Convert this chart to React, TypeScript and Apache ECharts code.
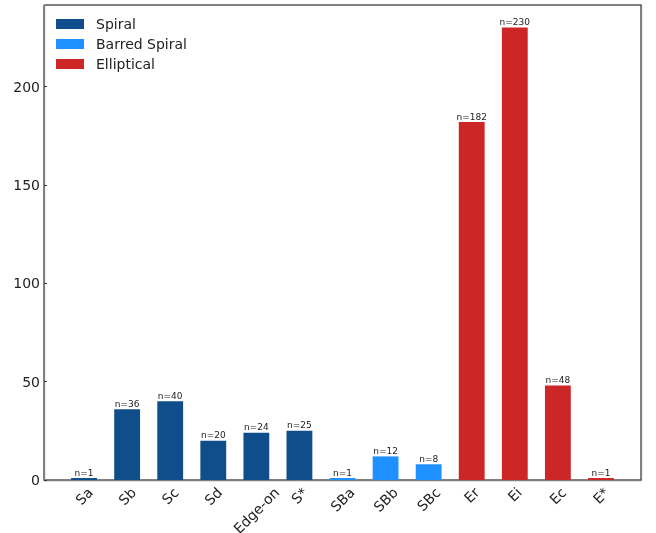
import React, { useEffect, useRef } from "react";
import * as echarts from "echarts";

const spiralCats = ["Sa", "Sb", "Sc", "Sd", "Edge-on", "S*"];
const spiralValues = [1, 36, 40, 20, 24, 25];
const barredCats = ["SBa", "SBb", "SBc"];
const barredValues = [1, 12, 8];
const ellipticalCats = ["Er", "Ei", "Ec", "E*"];
const ellipticalValues = [182, 230, 48, 1];
const yTicks = [0, 50, 100, 150, 200];

const categories = [...spiralCats, ...barredCats, ...ellipticalCats];
const FONT = "DejaVu Sans";

function measure(text: string, size: number): number {
  const c = document.createElement("canvas");
  const ctx = c.getContext("2d");
  if (!ctx) return text.length * size * 0.6;
  ctx.font = `${size}px "${FONT}"`;
  return ctx.measureText(text).width;
}

export default function App() {
  const ref = useRef<HTMLDivElement>(null);
  useEffect(() => {
    if (!ref.current) return;
    const chart = echarts.init(ref.current, undefined, { renderer: "svg" });

    const n = categories.length;
    const margin = 0.05 * (n - 1 + 0.6);
    const xMin = -0.3 - margin;
    const xMax = n - 1 + 0.3 + margin;
    const allValues = [...spiralValues, ...barredValues, ...ellipticalValues];
    const yMax = Math.max(...allValues) * 1.05;

    const gridLeft = 44;
    const gridRight = 15;
    const gridTop = 5;
    const gridBottom = 53;
    const plotW = 656 - gridLeft - gridRight;
    const unit = plotW / (xMax - xMin);
    const barW = 0.6 * unit;
    const bandInset = (-0.5 - xMin) * unit;

    // rich styles per category to emulate centred rotated labels
    const rich: Record<string, any> = {};
    categories.forEach((c, i) => {
      const w = measure(c, 14);
      const d = 5 + (w + 14) * 0.3536;
      const p = d * 1.4142;
      rich["c" + i] = {
        fontSize: 14,
        fontFamily: FONT,
        color: "#222",
        lineHeight: 16,
        padding: [p, p, 0, 0],
      };
    });

    const mk = (vals: number[], offset: number) =>
      vals.map((v, i) => [offset + i, v]);

    const labelCfg = {
      show: true,
      position: "top",
      distance: 1,
      fontSize: 9,
      fontFamily: FONT,
      color: "#222",
      formatter: (p: any) => "n=" + p.value[1],
    };

    chart.setOption({
      animation: false,
      grid: [
        {
          left: gridLeft,
          right: gridRight,
          top: gridTop,
          bottom: gridBottom,
          show: true,
          borderColor: "#000",
          borderWidth: 1,
          backgroundColor: "transparent",
          outerBoundsMode: "none",
          containLabel: false,
        },
        {
          left: gridLeft + bandInset,
          right: gridRight + bandInset,
          top: gridTop,
          bottom: gridBottom,
          show: false,
          outerBoundsMode: "none",
          containLabel: false,
        },
      ],
      legend: {
        orient: "vertical",
        left: 56,
        top: 17,
        padding: 0,
        itemWidth: 28,
        itemHeight: 10,
        itemGap: 6,
        icon: "rect",
        textStyle: {
          fontSize: 14,
          fontFamily: FONT,
          color: "#222",
          padding: [0, 0, 0, 7],
        },
        data: ["Spiral", "Barred Spiral", "Elliptical"],
      },
      xAxis: [
        {
          type: "value",
          gridIndex: 0,
          min: xMin,
          max: xMax,
          splitLine: { show: false },
          axisLine: {
            show: true,
            onZero: false,
            lineStyle: { color: "#808080", width: 1.3 },
          },
          axisTick: { show: false },
          axisLabel: { show: false },
        },
        {
          type: "category",
          gridIndex: 1,
          data: categories,
          boundaryGap: true,
          axisLine: { show: false, onZero: false },
          axisTick: { show: false },
          splitLine: { show: false },
          axisLabel: {
            interval: 0,
            rotate: 45,
            align: "center",
            verticalAlign: "middle",
            margin: 0,
            formatter: (v: string, i: number) => "{c" + i + "|" + v + "}",
            rich,
          },
        },
      ],
      yAxis: [
        {
          type: "value",
          gridIndex: 0,
          min: 0,
          max: yMax,
          position: "left",
          splitLine: { show: false },
          axisLine: {
            show: true,
            onZero: false,
            lineStyle: { color: "#808080", width: 1.3 },
          },
          axisTick: {
            show: true,
            inside: true,
            length: 3,
            lineStyle: { color: "#333", width: 1 },
            customValues: yTicks,
          },
          axisLabel: {
            customValues: yTicks,
            margin: 4,
            fontSize: 14,
            fontFamily: FONT,
            color: "#222",
          },
        },
        {
          type: "value",
          gridIndex: 0,
          min: 0,
          max: yMax,
          position: "right",
          splitLine: { show: false },
          axisLine: {
            show: true,
            onZero: false,
            lineStyle: { color: "#808080", width: 1.3 },
          },
          axisTick: { show: false },
          axisLabel: { show: false },
        },
        {
          type: "value",
          gridIndex: 1,
          min: 0,
          max: yMax,
          show: false,
        },
      ],
      series: [
        {
          name: "Spiral",
          type: "bar",
          xAxisIndex: 0,
          yAxisIndex: 0,
          barWidth: barW,
          barGap: "-100%",
          itemStyle: { color: "#104e8b" },
          label: labelCfg,
          data: mk(spiralValues, 0),
        },
        {
          name: "Barred Spiral",
          type: "bar",
          xAxisIndex: 0,
          yAxisIndex: 0,
          barWidth: barW,
          barGap: "-100%",
          itemStyle: { color: "#1e90ff" },
          label: labelCfg,
          data: mk(barredValues, spiralCats.length),
        },
        {
          name: "Elliptical",
          type: "bar",
          xAxisIndex: 0,
          yAxisIndex: 0,
          barWidth: barW,
          barGap: "-100%",
          itemStyle: { color: "#cd2626" },
          label: labelCfg,
          data: mk(ellipticalValues, spiralCats.length + barredCats.length),
        },
      ],
    });
    return () => chart.dispose();
  }, []);

  return (
    <div
      ref={ref}
      style={{ position: "fixed", left: 0, top: 0, width: 656, height: 533 }}
    />
  );
}
